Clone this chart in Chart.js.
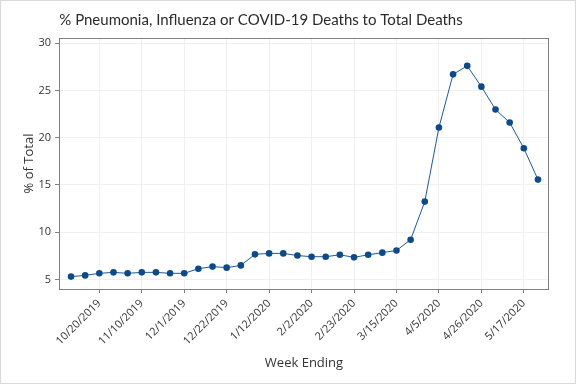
<!DOCTYPE html>
<html>
<head>
<meta charset="utf-8">
<script src="https://cdn.jsdelivr.net/npm/chart.js@4"></script>
<style>
  html, body { margin: 0; padding: 0; background: #ffffff; }
  #wrap { width: 576px; height: 384px; position: relative; }
  canvas { display: block; }
</style>
</head>
<body>
<div id="wrap"><canvas id="c" width="576" height="384"></canvas></div>
<script>
const weeks = [
  "10/6/2019","10/13/2019","10/20/2019","10/27/2019","11/3/2019","11/10/2019","11/17/2019",
  "11/24/2019","12/1/2019","12/8/2019","12/15/2019","12/22/2019","12/29/2019","1/5/2020",
  "1/12/2020","1/19/2020","1/26/2020","2/2/2020","2/9/2020","2/16/2020","2/23/2020",
  "3/1/2020","3/8/2020","3/15/2020","3/22/2020","3/29/2020","4/5/2020","4/12/2020",
  "4/19/2020","4/26/2020","5/3/2020","5/10/2020","5/17/2020","5/24/2020"
];
const pctOfTotal = [
  5.29, 5.42, 5.64, 5.74, 5.64, 5.74, 5.74, 5.64, 5.64, 6.13, 6.35, 6.24, 6.48, 7.65,
  7.75, 7.75, 7.52, 7.40, 7.40, 7.60, 7.33, 7.60, 7.83, 8.06, 9.20, 13.23, 21.07, 26.70,
  27.60, 25.40, 22.98, 21.60, 18.88, 15.56
];
const xTickLabels = ["10/20/2019","11/10/2019","12/1/2019","12/22/2019","1/12/2020","2/2/2020",
  "2/23/2020","3/15/2020","4/5/2020","4/26/2020","5/17/2020"];
const yTicks = [5, 10, 15, 20, 25, 30];
const titleText = "% Pneumonia, Influenza or COVID-19 Deaths to Total Deaths";

const FONT = "'Open Sans', 'Noto Sans', sans-serif";
const TITLE_FONT = "Lato, 'Open Sans', sans-serif";
const points = pctOfTotal.map((v, i) => ({ x: i, y: v }));
const xTickIdx = xTickLabels.map(l => weeks.indexOf(l));

const framePlugin = {
  id: 'frame',
  beforeDraw(chart) {
    const ctx = chart.ctx;
    ctx.save();
    ctx.fillStyle = '#ffffff';
    ctx.fillRect(0, 0, chart.width, chart.height);
    ctx.restore();
  },
  afterDraw(chart) {
    const ctx = chart.ctx;
    const a = chart.chartArea;
    ctx.save();
    ctx.strokeStyle = '#7f7f7f';
    ctx.lineWidth = 1;
    ctx.strokeRect(Math.round(a.left) + 0.5, Math.round(a.top) + 0.5,
      Math.round(a.right - a.left) - 1, Math.round(a.bottom - a.top));
    ctx.strokeStyle = '#d9d9d9';
    ctx.strokeRect(0.5, 0.5, chart.width - 1, chart.height - 1);
    ctx.fillStyle = '#2b2b2b';
    ctx.font = "15px " + TITLE_FONT;
    ctx.textAlign = 'center';
    ctx.textBaseline = 'middle';
    ctx.fillText(titleText, 261, 20);
    ctx.restore();
  }
};

new Chart(document.getElementById('c'), {
  type: 'line',
  data: {
    datasets: [{
      data: points,
      borderColor: '#1f5a99',
      borderWidth: 1,
      backgroundColor: '#0e4a87',
      pointBackgroundColor: '#0e4a87',
      pointBorderColor: '#0e4a87',
      pointRadius: 3.3,
      pointBorderWidth: 0,
      tension: 0,
      fill: false
    }]
  },
  options: {
    responsive: false,
    animation: false,
    devicePixelRatio: 1,
    layout: { padding: { top: 38, right: 27, bottom: 0, left: 0 } },
    plugins: { legend: { display: false }, tooltip: { enabled: false }, title: { display: false } },
    scales: {
      x: {
        type: 'linear',
        min: -0.85,
        max: 33.78,
        afterBuildTicks: (s) => { s.ticks = xTickIdx.map(v => ({ value: v })); },
        afterFit: (s) => { s.height = 95; },
        ticks: {
          autoSkip: false,
          minRotation: 45,
          maxRotation: 45,
          padding: 4,
          color: '#333333',
          font: { family: FONT, size: 11 },
          callback: (v) => weeks[v]
        },
        grid: { color: '#f0f0f0', tickColor: '#7f7f7f', tickLength: 4, drawOnChartArea: true },
        border: { display: false },
        title: {
          display: true, text: 'Week Ending', color: '#333333',
          font: { family: FONT, size: 13 }, padding: { top: 0, bottom: 13 }
        }
      },
      y: {
        type: 'linear',
        min: 3.98,
        max: 30.55,
        afterBuildTicks: (s) => { s.ticks = yTicks.map(v => ({ value: v })); },
        afterFit: (s) => { s.width = 59; },
        ticks: {
          padding: 4,
          color: '#333333',
          font: { family: FONT, size: 11 }
        },
        grid: { color: '#f0f0f0', tickColor: '#7f7f7f', tickLength: 4 },
        border: { display: false },
        title: {
          display: true, text: '% of Total', color: '#333333',
          font: { family: FONT, size: 13 }, padding: { top: 21, bottom: 0 }
        }
      }
    }
  },
  plugins: [framePlugin]
});
</script>
</body>
</html>
